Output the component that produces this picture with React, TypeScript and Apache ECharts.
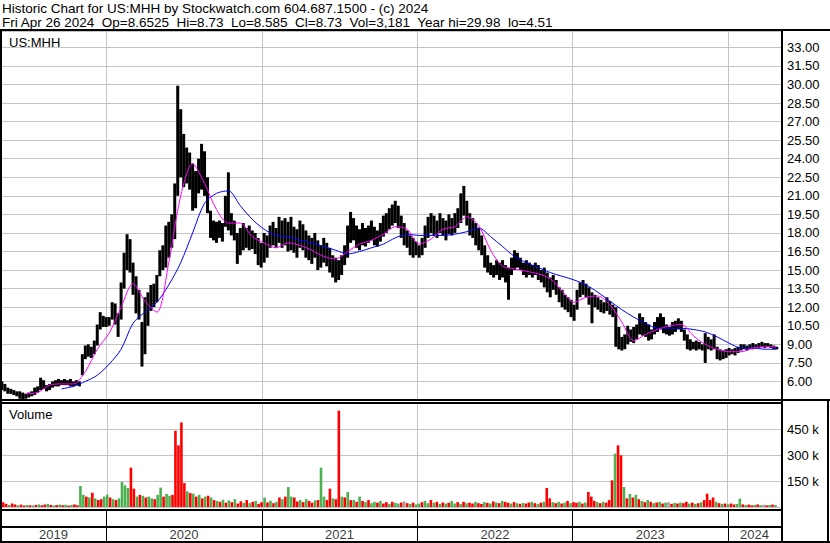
import React, { useEffect, useRef } from 'react';
import * as echarts from 'echarts';

// ---------- texts ----------
const NB = '\u00a0';
const HEADER_LINE_1 = 'Historic Chart for US:MHH by Stockwatch.com 604.687.1500 - (c) 2024';
const HEADER_LINE_2 = `Fri Apr 26 2024${NB} Op=8.6525${NB} Hi=8.73${NB} Lo=8.585${NB} Cl=8.73${NB} Vol=3,181${NB} Year hi=29.98${NB} lo=4.51`;
const SYMBOL_TITLE = 'US:MHH';
const VOLUME_TITLE = 'Volume';
const YEARS = ['2019', '2020', '2021', '2022', '2023', '2024'];

// ---------- axis settings ----------
const PRICE_MIN = 4.5;
const PRICE_MAX = 34.32;
const PRICE_INTERVAL = 1.5;
const VOLUME_MIN = 0;
const VOLUME_MAX = 600000;
const VOLUME_INTERVAL = 150000;

// weekly samples, first week = Wed 1 May 2019
const weeklyHigh = [
  6.0, 5.8, 5.5, 5.4, 5.3, 5.2, 5.2, 5.1, 5.0, 5.1,
  5.2, 5.5, 5.6, 6.3, 6.1, 5.7, 5.8, 6.0, 6.1, 6.2,
  6.1, 6.2, 6.1, 6.2, 6.0, 6.1, 6.0, 8.2, 8.9, 9.0,
  8.8, 9.3, 10.6, 11.6, 11.3, 11.2, 11.2, 12.4, 12.3, 11.5,
  14.0, 16.4, 17.9, 17.5, 15.6, 14.5, 13.4, 10.8, 12.8, 13.2,
  13.8, 13.9, 14.6, 16.6, 17.0, 18.6, 18.9, 19.5, 22.0, 29.9,
  28.0, 26.0, 24.9, 24.5, 23.6, 23.0, 24.0, 25.2, 24.6, 22.5,
  19.8, 19.0, 18.9, 19.0, 18.8, 21.0, 22.9, 19.6, 19.0, 18.0,
  18.4, 18.8, 18.4, 18.6, 18.2, 18.0, 17.6, 17.2, 18.0, 17.8,
  18.6, 18.9, 18.4, 19.3, 19.0, 19.2, 18.9, 19.3, 18.5, 18.3,
  19.0, 18.7, 18.2, 17.8, 17.6, 18.0, 17.4, 17.0, 17.6, 17.2,
  16.8, 16.2, 16.0, 15.8, 16.2, 17.0, 18.6, 19.7, 19.2, 18.6,
  18.3, 18.8, 18.4, 18.6, 19.0, 18.5, 18.2, 18.8, 19.4, 19.6,
  20.0, 20.3, 20.6, 20.2, 19.4, 18.8, 18.2, 17.8, 17.6, 17.3,
  17.0, 17.6, 18.6, 19.3, 19.6, 19.4, 19.0, 19.6, 19.2, 19.0,
  19.5, 19.2, 19.6, 20.0, 21.2, 21.8, 20.6, 19.6, 19.2, 18.8,
  18.4, 17.8, 17.0, 16.2, 15.6, 15.4, 15.8, 15.6, 15.8, 15.4,
  15.2, 16.0, 16.6, 16.4, 16.0, 15.6, 15.8, 15.6, 15.4, 15.6,
  15.4, 15.0, 15.2, 14.8, 14.4, 14.6, 14.2, 13.6, 13.4, 13.0,
  12.8, 12.6, 12.2, 13.4, 14.0, 14.2, 13.9, 13.6, 13.2, 13.0,
  12.8, 12.6, 12.4, 12.8, 12.5, 12.2, 12.0, 10.4, 9.6, 9.8,
  10.5, 10.2, 10.4, 10.6, 11.5, 11.2, 10.8, 10.6, 10.2, 10.8,
  11.2, 11.5, 11.2, 10.6, 10.4, 10.8, 10.9, 11.1, 10.9, 10.2,
  9.8, 9.4, 9.2, 9.3, 9.2, 9.0, 9.9, 9.6, 9.4, 9.8,
  8.8, 8.6, 8.5, 8.6, 8.7, 8.6, 8.7, 8.8, 9.0, 9.0,
  8.9, 9.0, 9.1, 9.0, 9.1, 9.2, 9.1, 9.1, 9.0, 8.9, 8.8,
];

const weeklyLow = [
  5.3, 5.2, 5.0, 5.0, 4.9, 4.8, 4.6, 4.5, 4.6, 4.7,
  4.8, 4.9, 5.1, 5.3, 5.4, 5.2, 5.3, 5.5, 5.6, 5.6,
  5.7, 5.7, 5.7, 5.6, 5.6, 5.7, 5.6, 6.5, 7.8, 8.0,
  7.9, 8.2, 8.9, 10.2, 10.4, 10.4, 10.5, 11.0, 10.6, 9.6,
  11.0, 13.5, 15.0, 14.8, 13.0, 11.5, 11.0, 7.2, 8.2, 10.5,
  11.7, 12.0, 12.4, 14.5, 15.0, 15.2, 16.0, 16.8, 17.5, 21.0,
  22.5, 21.7, 22.0, 21.5, 19.8, 20.0, 21.2, 21.5, 21.0, 19.6,
  17.6, 17.4, 17.2, 17.6, 17.3, 18.5, 18.2, 17.8, 17.4, 15.5,
  16.2, 16.6, 16.8, 16.6, 16.7, 16.3, 15.4, 15.2, 15.6, 16.0,
  16.8, 17.0, 16.8, 17.2, 16.8, 17.0, 16.5, 16.6, 16.4, 16.0,
  16.8, 16.6, 16.0, 15.8, 15.5, 16.0, 15.0, 15.2, 15.6, 15.3,
  14.8, 14.4, 14.0, 14.2, 14.6, 15.4, 16.0, 17.2, 17.4, 16.8,
  16.6, 17.0, 16.9, 17.2, 17.4, 17.0, 16.9, 17.3, 17.7, 18.0,
  18.3, 18.6, 18.8, 18.4, 17.6, 17.0, 16.8, 16.2, 16.0, 16.2,
  16.0, 16.2, 16.8, 17.6, 18.0, 17.8, 17.6, 18.0, 17.8, 17.4,
  17.9, 17.8, 18.0, 18.4, 18.8, 19.4, 18.6, 17.8, 17.6, 17.0,
  16.6, 16.2, 15.2, 14.8, 14.6, 14.4, 14.6, 14.2, 14.4, 14.0,
  12.6, 14.6, 15.0, 15.2, 15.0, 14.6, 14.4, 14.6, 14.4, 14.6,
  14.2, 14.0, 13.6, 13.2, 12.8, 13.4, 13.0, 12.4, 12.0, 11.8,
  11.6, 11.2, 10.9, 11.8, 12.8, 13.0, 12.8, 12.2, 10.7, 12.0,
  11.8, 11.6, 11.5, 11.7, 11.4, 11.2, 8.8, 8.6, 8.5, 8.6,
  9.0, 9.2, 9.1, 9.4, 9.8, 9.7, 9.6, 9.3, 9.4, 9.8,
  10.0, 10.2, 9.9, 9.8, 9.7, 9.8, 10.0, 10.2, 10.0, 9.3,
  8.6, 8.5, 8.6, 8.5, 8.6, 8.5, 7.5, 8.6, 8.5, 8.6,
  7.8, 7.7, 7.8, 7.9, 8.1, 8.2, 8.1, 8.3, 8.5, 8.6,
  8.5, 8.6, 8.6, 8.7, 8.7, 8.8, 8.7, 8.8, 8.7, 8.6, 8.6,
];

// weekly volume, thousands of shares
const weeklyVolumeK = [
  28, 18, 12, 20, 15, 10, 14, 8, 12, 10,
  9, 12, 15, 10, 14, 18, 12, 9, 11, 14,
  10, 13, 8, 12, 15, 10, 121, 70, 60, 55,
  82, 50, 40, 45, 60, 71, 55, 45, 40, 50,
  144, 125, 110, 227, 106, 60, 70, 65, 55, 60,
  50, 45, 70, 112, 60, 75, 65, 70, 440, 356,
  488, 138, 90, 80, 77, 60, 70, 50, 60, 65,
  55, 40, 35, 30, 42, 25, 38, 28, 45, 20,
  33, 24, 40, 22, 30, 35, 18, 28, 54, 26,
  36, 22, 30, 55, 45, 60, 115, 60, 55, 32,
  40, 28, 45, 35, 25, 38, 40, 227, 60, 40,
  106, 50, 45, 556, 60, 55, 87, 40, 40, 30,
  60, 35, 28, 40, 22, 30, 25, 35, 20, 28,
  18, 30, 24, 20, 26, 32, 22, 18, 25, 15,
  20, 28, 35, 22, 40, 25, 30, 18, 26, 20,
  24, 35, 20, 28, 18, 30, 22, 25, 20, 30,
  22, 18, 28, 24, 20, 32, 26, 22, 35, 30,
  25, 20, 28, 22, 18, 24, 20, 26, 30, 22,
  18, 25, 30, 110, 50, 28, 22, 30, 20, 25,
  35, 22, 28, 24, 30, 20, 26, 87, 60, 35,
  28, 22, 30, 25, 40, 154, 308, 356, 298, 115,
  50, 75, 55, 70, 45, 35, 28, 40, 30, 22,
  26, 30, 20, 25, 28, 18, 24, 20, 26, 22,
  30, 20, 25, 18, 22, 28, 40, 77, 40, 55,
  30, 22, 18, 20, 16, 20, 15, 18, 48, 15,
  12, 14, 10, 12, 15, 11, 13, 10, 12, 14, 11,
];

// g = up, r = down, n = unchanged
const weeklyDirection =
  'rrgrrgrrgr' + 'grgrrgrgrg' + 'rgrgrrggrg' + 'rgrrggrgrg' + 'gggrrgrgrg' +
  'grggrggrrr' + 'rrgrgrgrgr' + 'grgrgrgrgr' + 'rgrgrgrrgr' + 'grgrgrggrr' +
  'grgrrgrggr' + 'rgrrgrgrgr' + 'grgrggrgrr' + 'grggrnrgrg' + 'grggrgrgrg' +
  'rggrgrgrrg' + 'rrgrgrgrgr' + 'rgrgrgrrgr' + 'grgrrgrgrg' + 'rgrrgrgrrr' +
  'grgrrrgrrg' + 'rgrgrgrgrg' + 'rgrgnrgrgr' + 'rgrgrgrrrr' + 'grgrgrrggr' +
  'grrgrgnrgrg';

// moving averages, sampled every 4 weeks
const MA_STEP_WEEKS = 4;
const maFast = [
  null, null, 5.0, 5.1, 5.7, 5.8, 5.8, 6.8, 8.6, 9.9,
  12.0, 13.9, 12.5, 11.6, 15.6, 21.0, 23.6, 22.0, 19.9, 18.8,
  18.8, 17.7, 17.2, 16.8, 17.2, 17.0, 16.6, 16.1, 15.9, 16.5,
  17.1, 17.4, 17.9, 18.5, 18.3, 17.1, 17.5, 18.3, 18.5, 19.3,
  18.6, 16.6, 15.3, 15.1, 14.9, 14.7, 14.3, 13.3, 12.4, 12.8,
  12.9, 12.2, 10.8, 9.3, 9.8, 10.2, 10.5, 10.6, 9.7, 9.0,
  8.6, 8.4, 8.4, 8.7, 8.8, 8.8,
];
const maSlow = [
  null, null, null, null, null, 5.4, 5.6, 6.0, 6.5, 7.4,
  8.6, 10.7, 11.6, 12.4, 13.8, 15.6, 18.0, 20.4, 21.2, 21.4,
  20.2, 19.1, 18.3, 17.8, 17.7, 17.4, 17.2, 16.9, 16.6, 16.3,
  16.5, 16.8, 17.1, 17.6, 17.9, 17.8, 17.8, 17.8, 17.9, 18.1,
  18.4, 17.7, 16.9, 16.1, 15.6, 15.2, 14.8, 14.5, 14.2, 13.8,
  13.2, 12.5, 11.8, 11.2, 10.7, 10.3, 10.3, 10.3, 10.2, 10.0,
  9.6, 9.1, 8.7, 8.7, 8.6, 8.6,
];

// ---------- derived ----------
const FONT = '"Liberation Sans", Arial, sans-serif';
const weekTime = (i: number) => new Date(2019, 4, 1 + 7 * i, 12).getTime();
const AXIS_MIN = new Date(2019, 3, 29, 10).getTime();
const AXIS_MAX = new Date(2024, 4, 4, 12).getTime();
const YEAR_MS = 365 * 24 * 3600 * 1000;

const priceData = weeklyHigh.map((h, i) => [weekTime(i), h, weeklyLow[i]]);
const dirColor: Record<string, string> = { g: '#4caf50', r: '#ff0000', n: '#a0a0a0' };
const volumeData = weeklyVolumeK.map((v, i) => ({
  value: [weekTime(i), v * 1000],
  itemStyle: { color: dirColor[weeklyDirection[i]] },
}));
const maLine = (arr: (number | null)[]) =>
  arr.map((v, k) => [weekTime(k * MA_STEP_WEEKS), v]).filter((p) => p[1] !== null);
const yearLabels = YEARS.map((y) => {
  const s = Math.max(AXIS_MIN, new Date(+y, 0, 1).getTime());
  const e = Math.min(AXIS_MAX, new Date(+y + 1, 0, 1).getTime());
  return [(s + e) / 2, 0.5, y];
});

const timeAxis = (gridIndex: number, splitColor: string) => ({
  type: 'time',
  gridIndex,
  min: AXIS_MIN,
  max: AXIS_MAX,
  minInterval: YEAR_MS,
  maxInterval: YEAR_MS * 1.01,
  axisLine: { show: false },
  axisTick: { show: false },
  axisLabel: { show: false },
  splitLine: { show: true, lineStyle: { color: splitColor, width: 1 } },
});

const blackRect = (x: number, y: number, w: number, h: number) => ({
  type: 'rect',
  z: 100,
  shape: { x, y, width: w, height: h },
  style: { fill: '#000' },
  silent: true,
});
const text = (t: string, x: number, y: number, size: number) => ({
  type: 'text',
  z: 100,
  x,
  y,
  style: { text: t, fill: '#000', font: `${size}px ${FONT}`, verticalAlign: 'middle', textVerticalAlign: 'middle' },
  silent: true,
});

const option: any = {
  animation: false,
  backgroundColor: '#fff',
  textStyle: { fontFamily: FONT },
  grid: [
    { left: 1, right: 49, top: 31, height: 369 },
    { left: 1, right: 49, top: 403, height: 104 },
    { left: 1, right: 49, top: 511, height: 15 },
    { left: 1, right: 49, top: 528, height: 13 },
  ],
  xAxis: [timeAxis(0, '#c4c4c4'), timeAxis(1, '#c4c4c4'), timeAxis(2, '#000'), timeAxis(3, '#000')],
  yAxis: [
    {
      type: 'value',
      gridIndex: 0,
      position: 'right',
      min: PRICE_MIN,
      max: PRICE_MAX,
      interval: PRICE_INTERVAL,
      axisLine: { show: false },
      axisTick: { show: false },
      splitLine: { show: true, lineStyle: { color: '#c4c4c4', width: 1 } },
      axisLabel: {
        show: true,
        showMinLabel: false,
        showMaxLabel: false,
        margin: 6,
        align: 'left',
        color: '#000',
        fontSize: 13,
        fontFamily: FONT,
        formatter: (v: number) => v.toFixed(2),
      },
    },
    {
      type: 'value',
      gridIndex: 1,
      position: 'right',
      min: VOLUME_MIN,
      max: VOLUME_MAX,
      interval: VOLUME_INTERVAL,
      axisLine: { show: false },
      axisTick: { show: false },
      splitLine: { show: true, lineStyle: { color: '#c4c4c4', width: 1 } },
      axisLabel: {
        show: true,
        showMinLabel: false,
        showMaxLabel: false,
        margin: 6,
        align: 'left',
        color: '#000',
        fontSize: 13,
        fontFamily: FONT,
        formatter: (v: number) => `${v / 1000} k`,
      },
    },
    { type: 'value', gridIndex: 2, min: 0, max: 1, show: false },
    { type: 'value', gridIndex: 3, min: 0, max: 1, show: false },
  ],
  series: [
    {
      type: 'custom',
      xAxisIndex: 0,
      yAxisIndex: 0,
      clip: true,
      encode: { x: 0, y: [1, 2] },
      data: priceData,
      renderItem: (params: any, api: any) => {
        const t = api.value(0);
        const p1 = api.coord([t, api.value(1)]);
        const p2 = api.coord([t, api.value(2)]);
        return {
          type: 'line',
          shape: { x1: p1[0], y1: p1[1], x2: p2[0], y2: p2[1] },
          style: { stroke: '#000', lineWidth: 3 },
        };
      },
      z: 2,
    },
    {
      type: 'line',
      xAxisIndex: 0,
      yAxisIndex: 0,
      data: maLine(maSlow),
      showSymbol: false,
      smooth: 0.3,
      lineStyle: { color: '#0000ff', width: 1 },
      z: 3,
    },
    {
      type: 'line',
      xAxisIndex: 0,
      yAxisIndex: 0,
      data: maLine(maFast),
      showSymbol: false,
      smooth: 0.3,
      lineStyle: { color: '#ff00ff', width: 1 },
      z: 4,
    },
    {
      type: 'bar',
      xAxisIndex: 1,
      yAxisIndex: 1,
      barWidth: 2.6,
      data: volumeData,
    },
    {
      type: 'scatter',
      xAxisIndex: 3,
      yAxisIndex: 3,
      symbolSize: 0,
      data: yearLabels,
      label: {
        show: true,
        position: 'inside',
        color: '#000',
        fontSize: 13,
        fontFamily: FONT,
        formatter: (p: any) => p.data[2],
      },
    },
  ],
  graphic: {
    elements: [
      text(HEADER_LINE_1, 2, 8, 13.5),
      text(HEADER_LINE_2, 2, 22, 13.5),
      text(SYMBOL_TITLE, 9, 42, 13),
      text(VOLUME_TITLE, 9, 414, 13),
      blackRect(0, 29, 830, 2),
      blackRect(0, 29, 2, 514),
      blackRect(781, 29, 2, 514),
      blackRect(0, 399, 830, 2),
      blackRect(0, 402, 781, 2),
      blackRect(0, 509, 781, 2),
      blackRect(0, 526, 781, 2),
      blackRect(0, 541, 830, 2),
      blackRect(827, 399, 2, 144),
    ],
  },
};

export default function App() {
  const ref = useRef<HTMLDivElement>(null);
  useEffect(() => {
    if (!ref.current) return;
    const chart = echarts.init(ref.current, null, { renderer: 'svg' });
    chart.setOption(option);
    return () => chart.dispose();
  }, []);
  return (
    <div
      ref={ref}
      style={{ position: 'fixed', left: 0, top: 0, width: 830, height: 543, background: '#fff' }}
    />
  );
}
